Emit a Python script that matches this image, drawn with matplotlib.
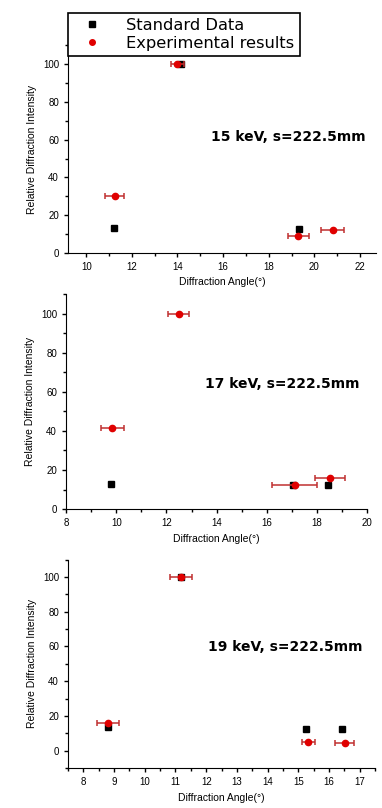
import matplotlib
matplotlib.use('Agg')
import matplotlib.pyplot as plt
from matplotlib.lines import Line2D
from matplotlib.ticker import MultipleLocator

plt.rcParams['font.family'] = ['Liberation Sans', 'DejaVu Sans']

# panel 1: 15 keV
std_x1 = [14.15, 11.2, 19.32]
std_y1 = [100, 13.2, 12.6]
exp_x1 = [14.0, 11.25, 19.3, 20.8]
exp_y1 = [100, 30.2, 8.8, 11.9]
exp_e1 = [0.3, 0.42, 0.47, 0.5]

# panel 2: 17 keV
std_x2 = [9.8, 17.05, 18.43]
std_y2 = [13, 12.3, 12.3]
exp_x2 = [12.49, 9.85, 17.12, 18.52]
exp_y2 = [100, 41.5, 12.3, 15.7]
exp_e2 = [0.42, 0.47, 0.9, 0.58]

# panel 3: 19 keV
std_x3 = [11.18, 8.8, 15.24, 16.43]
std_y3 = [100, 13.4, 12.2, 12.2]
exp_x3 = [11.18, 8.81, 15.33, 16.51]
exp_y3 = [100, 15.9, 5.0, 4.6]
exp_e3 = [0.35, 0.36, 0.22, 0.31]

labels = ['15 keV, s=222.5mm', '17 keV, s=222.5mm', '19 keV, s=222.5mm']

fig = plt.figure(figsize=(3.82, 8.08), dpi=100)

panels = [
    ([0.178, 0.687, 0.806, 0.257], std_x1, std_y1, exp_x1, exp_y1, exp_e1,
     (9.2, 22.7), (0, 110), 2, 1, (0.717, 0.558)),
    ([0.173, 0.370, 0.788, 0.266], std_x2, std_y2, exp_x2, exp_y2, exp_e2,
     (8, 20), (0, 110), 2, 1, (0.717, 0.58)),
    ([0.178, 0.0495, 0.804, 0.258], std_x3, std_y3, exp_x3, exp_y3, exp_e3,
     (7.5, 17.5), (-10, 110), 1, 0.5, (0.707, 0.579)),
]

for i, (pos, sx, sy, ex, ey, ee, xl, yl, xmaj, xmin, tpos) in enumerate(panels):
    ax = fig.add_axes(pos)
    ax.errorbar(ex, ey, xerr=ee, fmt='o', color='#e00000', ms=4.5,
                ecolor='#c03030', elinewidth=1.1, capsize=2.5, capthick=1.1,
                zorder=3)
    ax.plot(sx, sy, 's', color='black', ms=4, zorder=2)
    ax.set_xlim(xl)
    ax.set_ylim(yl)
    ax.xaxis.set_major_locator(MultipleLocator(xmaj))
    ax.xaxis.set_minor_locator(MultipleLocator(xmin))
    ax.yaxis.set_major_locator(MultipleLocator(20))
    ax.yaxis.set_minor_locator(MultipleLocator(10))
    ax.spines['top'].set_visible(False)
    ax.spines['right'].set_visible(False)
    ax.tick_params(direction='out', labelsize=7, length=3, width=1)
    ax.tick_params(which='minor', direction='out', length=2, width=1)
    ax.set_xlabel('Diffraction Angle(°)', fontsize=7.5)
    ax.set_ylabel('Relative Diffraction Intensity', fontsize=7.5)
    ax.text(tpos[0], tpos[1], labels[i], transform=ax.transAxes, fontsize=10,
            fontweight='bold', family='DejaVu Sans', ha='center', va='center')

# legend sits over the top panel, markers only
handles = [Line2D([], [], ls='none', marker='s', color='black', ms=4),
           Line2D([], [], ls='none', marker='o', color='#e00000', ms=4)]
leg = fig.legend(handles, ['Standard Data', 'Experimental results'],
                 loc='upper left', bbox_to_anchor=(68 / 382, 1 - 13 / 808),
                 borderaxespad=0, prop={'family': 'DejaVu Sans', 'size': 11.7},
                 frameon=True, fancybox=False, edgecolor='black', framealpha=1,
                 borderpad=0.3, handlelength=2.4, handletextpad=0.9,
                 labelspacing=0.2)
leg.get_frame().set_linewidth(1.2)

fig.savefig('out.png', dpi=100)
